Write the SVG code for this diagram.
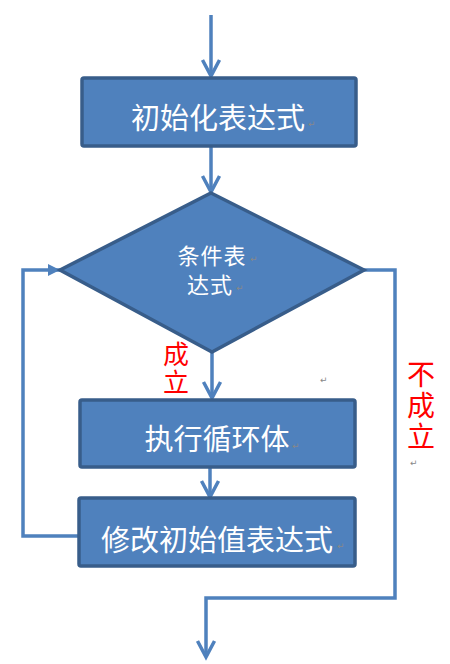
<svg xmlns="http://www.w3.org/2000/svg" width="450" height="664" viewBox="0 0 450 664">
<defs>
<style>
.box{fill:#4F81BD;stroke:#385D8A;stroke-width:3.5}
.ln{fill:none;stroke:#4F81BD;stroke-width:3.5}
.wt{fill:#FFFFFF;font-family:"Noto Sans CJK SC","Noto Sans",sans-serif;text-anchor:middle}
.rd{fill:#FF0000;font-family:"Noto Sans CJK SC",sans-serif;writing-mode:vertical-rl;text-orientation:upright}
.pm{fill:#888888;font-family:"DejaVu Sans",sans-serif;font-size:9px}
</style>
<marker id="chev" viewBox="0 0 20 20" refX="17" refY="10" markerWidth="20" markerHeight="20" markerUnits="userSpaceOnUse" orient="auto" overflow="visible">
<path d="M1,1.5 L17,10 L1,18.5" fill="none" stroke="#4F81BD" stroke-width="3.5" stroke-linejoin="miter"/>
</marker>
<marker id="tri" viewBox="0 0 12 12" refX="12" refY="6" markerWidth="12" markerHeight="12" markerUnits="userSpaceOnUse" orient="auto">
<path d="M0,0 L12,6 L0,12 Z" fill="#4F81BD"/>
</marker>
</defs>
<rect width="450" height="664" fill="#FFFFFF"/>
<g id="connectors">
<path class="ln" d="M211,15 L211,76" marker-end="url(#chev)"/>
<path class="ln" d="M211,147 L211,192" marker-end="url(#chev)"/>
<path class="ln" d="M212,352 L212,398" marker-end="url(#chev)"/>
<path class="ln" d="M210,468 L210,497" marker-end="url(#chev)"/>
<path class="ln" d="M79,536 L23,536 L23,270 L60,270" marker-end="url(#tri)"/>
<path class="ln" d="M364,270 L395,270 L395,598 L206,598 L206,657" marker-end="url(#chev)"/>
</g>
<g id="init">
<rect class="box" x="82" y="78" width="274" height="68" rx="2"/>
<text class="wt" x="218" y="129" font-size="29">初始化表达式</text>
<text class="pm" x="308" y="127">↵</text>
</g>
<g id="cond">
<path class="box" d="M211,193 L364,270 L212,352 L60,270 Z"/>
<text class="wt" x="212" y="264" font-size="22" letter-spacing="1">条件表</text>
<text class="wt" x="210" y="293" font-size="22" letter-spacing="1">达式</text>
<text class="pm" x="250" y="262">↵</text>
<text class="pm" x="236" y="291">↵</text>
</g>
<g id="body">
<rect class="box" x="80" y="400" width="275" height="67" rx="2"/>
<text class="wt" x="217" y="450" font-size="29">执行循环体</text>
<text class="pm" x="292" y="449">↵</text>
</g>
<g id="update">
<rect class="box" x="79" y="498" width="276" height="68" rx="2"/>
<text class="wt" x="217" y="551" font-size="29">修改初始值表达式</text>
<text class="pm" x="337" y="549">↵</text>
</g>
<g id="labels">
<text class="rd" x="176" y="341" font-size="26" letter-spacing="2">成立</text>
<text class="rd" x="421" y="360" font-size="28" letter-spacing="3">不成立</text>
<text class="pm" x="320" y="383">↵</text>
<text class="pm" x="410" y="466">↵</text>
</g>
</svg>
